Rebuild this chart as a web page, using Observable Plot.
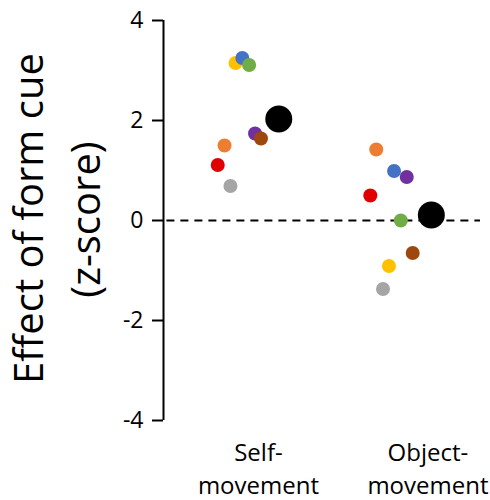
<!DOCTYPE html>
<html>
<head>
<meta charset="utf-8">
<script src="https://cdn.jsdelivr.net/npm/d3@7"></script>
<script src="https://cdn.jsdelivr.net/npm/@observablehq/plot@0.6"></script>
<style>
  html, body { margin: 0; padding: 0; background: #fff; }
  #chart svg { display: block; }
</style>
</head>
<body>
<div id="chart"></div>
<script>
// Data
const categories = ["Self-movement", "Object-movement"];
const categoryLabels = ["Self-\nmovement", "Object-\nmovement"];
const titleLines = ["Effect of form cue", "(z-score)"];
const subjects = ["S1", "S2", "S3", "S4", "S5", "S6", "S7", "S8"];
const subjectColors = ["#e00000", "#ed7d31", "#ffc000", "#4472c4", "#70ad47", "#7030a0", "#9e480e", "#a5a5a5"];
// z-scores per subject (order: red, orange, yellow, blue, green, purple, brown, gray)
const selfValues   = [1.11, 1.50, 3.15, 3.25, 3.11, 1.74, 1.64, 0.69];
const objectValues = [0.50, 1.42, -0.91, 0.99, 0.00, 0.87, -0.65, -1.37];
// horizontal scatter offsets (category units)
const selfJitter   = [-0.24, -0.20, -0.135, -0.095, -0.055, -0.02, 0.015, -0.165];
const objectJitter = [-0.34, -0.305, -0.23, -0.20, -0.16, -0.125, -0.09, -0.265];
// group mean
const meanValues = [2.03, 0.11];
const meanJitter = [0.12, 0.02];

const yTicks = [-4, -2, 0, 2, 4];

const points = [];
categories.forEach((c, ci) => {
  const vals = ci === 0 ? selfValues : objectValues;
  const jit = ci === 0 ? selfJitter : objectJitter;
  subjects.forEach((s, i) => {
    points.push({cat: c, pos: ci + 1 + jit[i], value: vals[i], subject: s});
  });
});
const means = categories.map((c, ci) => ({cat: c, pos: ci + 1 + meanJitter[ci], value: meanValues[ci]}));

const xMin = 0.44, xMax = 2.31;

const chart = Plot.plot({
  width: 490,
  height: 500,
  marginLeft: 163,
  marginRight: 10,
  marginTop: 20,
  marginBottom: 80,
  style: {fontFamily: "'Open Sans', sans-serif", color: "#000", background: "#fff"},
  x: {domain: [xMin, xMax]},
  y: {domain: [-4, 4]},
  color: {domain: subjects, range: subjectColors},
  marks: [
    Plot.ruleY([0], {x1: xMin + 0.02, x2: xMax, stroke: "#000", strokeWidth: 2, strokeDasharray: "8,6"}),
    Plot.ruleX([xMin], {y1: -4, y2: 4, stroke: "#000", strokeWidth: 2}),
    Plot.axisY({
      ticks: yTicks, tickFormat: d => String(d), tickSize: 11, tickPadding: 9,
      fontSize: 23, label: null, strokeWidth: 2, stroke: "#000"
    }),
    Plot.axisX({
      ticks: [1, 2], tickFormat: (d) => categoryLabels[d - 1], tickSize: 0, tickPadding: 17,
      fontSize: 24, label: null, lineHeight: 1.38
    }),
    Plot.text([titleLines[0]], {
      frameAnchor: "left", textAnchor: "middle", lineAnchor: "middle", rotate: -90, dx: -133, dy: -2,
      fontSize: 40, fill: "#000"
    }),
    Plot.text([titleLines[1]], {
      frameAnchor: "left", textAnchor: "middle", lineAnchor: "middle", rotate: -90, dx: -76, dy: -1,
      fontSize: 40, fill: "#000"
    }),
    Plot.dot(points, {x: "pos", y: "value", fill: "subject", r: 7, stroke: "none"}),
    Plot.dot(means, {x: "pos", y: "value", fill: "#000", r: 13.5})
  ]
});
document.getElementById("chart").appendChild(chart);
</script>
</body>
</html>
